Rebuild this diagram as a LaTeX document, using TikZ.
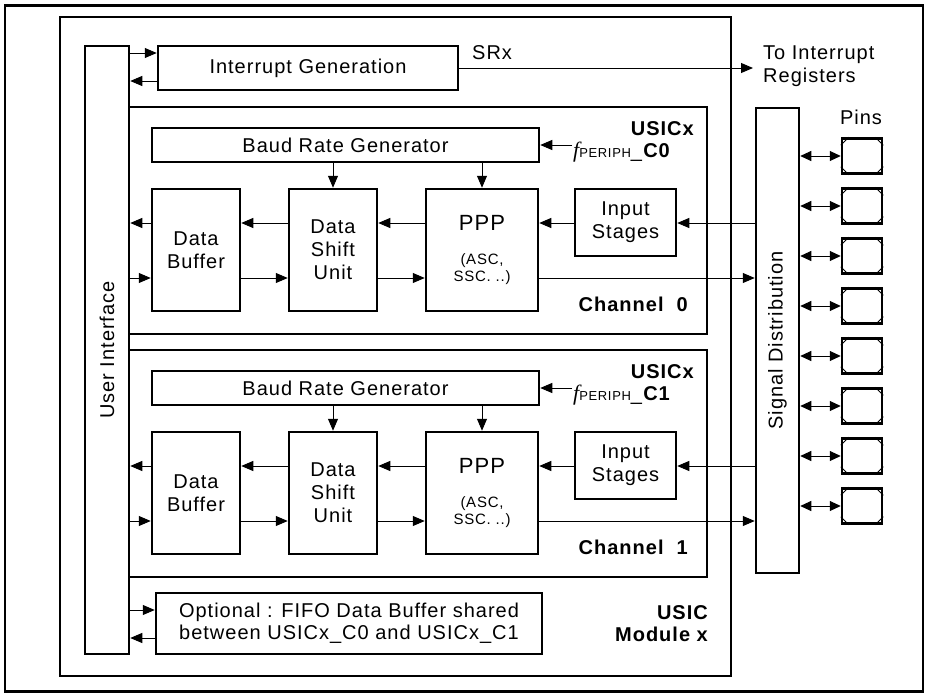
\documentclass[tikz,border=0pt]{standalone}
\usepackage{fontspec}
\setmainfont[LetterSpace=5]{Liberation Sans}
\newfontfamily\serifit{Liberation Serif}
\usetikzlibrary{arrows.meta,calc}
\begin{document}
\begin{tikzpicture}[x=1pt,y=-1pt,
  box/.style={draw, line width=2.5pt, inner sep=0pt, align=center, fill=white,
    font=\fontsize{20}{23}\selectfont},
  frame/.style={draw, line width=2.5pt, inner sep=0pt},
  arr/.style={-{Triangle[length=12pt,width=10pt]}, line width=0.9pt},
  darr/.style={{Triangle[length=11pt,width=10pt]}-{Triangle[length=11pt,width=10pt]}, line width=0.9pt},
  lbl/.style={inner sep=0pt, font=\fontsize{20}{23}\selectfont},
  blbl/.style={inner sep=0pt, font=\fontsize{20}{22}\selectfont\bfseries, align=right},
  pinbox/.style={draw, line width=2.5pt, inner sep=0pt, minimum width=40pt, minimum height=35pt},
]
\useasboundingbox (0,0) rectangle (927,694);
% outer frame
\node[frame, minimum width=918pt, minimum height=686pt] (outer) at (464,348.5) {};
% module
\node[frame, minimum width=671pt, minimum height=659pt] (module) at (395.5,346.5) {};
% user interface bar
\node[box, minimum width=44pt, minimum height=608pt] (ui) at (107,350) {};
\node[lbl, rotate=90] (uitext) at (ui) {User Interface};
% interrupt generation
\node[box, minimum width=300pt, minimum height=44pt] (ig) at (308,68) {Interrupt Generation};
\coordinate (yA) at (0,53);
\coordinate (yB) at (0,81);
\draw[arr] (ui.east |- yA) -- (ig.west |- yA);
\draw[arr] (ig.west |- yB) -- (ui.east |- yB);
\coordinate (toint) at (753,68);
\draw[arr] (ig.east) -- (toint);
\node[lbl, anchor=west] (srx) at (472,53) {SRx};
\node[lbl, anchor=west, align=left] (totext) at (763,66.5) {To Interrupt\\Registers};
% signal distribution
\node[box, minimum width=43pt, minimum height=465pt] (sd) at (777.5,340.5) {};
\node[lbl, rotate=90] (sdtext) at (sd) {Signal Distribution};
\node[lbl] (pinstext) at (861,117) {Pins};
% channels
\foreach \c/\dy in {0/0,1/243}{
  \node[frame, minimum width=578pt, minimum height=227pt] (ch\c) at (418,220.5+\dy) {};
  \node[box, minimum width=387pt, minimum height=34pt] (brg\c) at (345.5,145+\dy) {Baud Rate Generator};
  \node[box, minimum width=88pt, minimum height=122pt] (db\c) at (196,250+\dy) {Data\\Buffer};
  \node[box, minimum width=88pt, minimum height=122pt] (dsu\c) at (333,250+\dy) {Data\\Shift\\Unit};
  \node[box, minimum width=112pt, minimum height=122pt] (ppp\c) at (482,250+\dy) {};
  \node[lbl, font=\fontsize{22}{24}\selectfont] (ppptext\c) at (482,223+\dy) {PPP};
  \node[lbl, align=center, font=\fontsize{15}{17}\selectfont] (pppsub\c) at (482,269.5+\dy) {(ASC,\\SSC. ..)};
  \node[box, minimum width=101pt, minimum height=67pt] (is\c) at (625.5,222.5+\dy) {Input\\Stages};
  \coordinate (u\c) at (0,223+\dy);
  \coordinate (l\c) at (0,278+\dy);
  % upper row (towards user interface)
  \draw[arr] (sd.west |- u\c) -- (is\c.east |- u\c);
  \draw[arr] (is\c.west |- u\c) -- (ppp\c.east |- u\c);
  \draw[arr] (ppp\c.west |- u\c) -- (dsu\c.east |- u\c);
  \draw[arr] (dsu\c.west |- u\c) -- (db\c.east |- u\c);
  \draw[arr] (db\c.west |- u\c) -- (ui.east |- u\c);
  % lower row (towards pins)
  \draw[arr] (ui.east |- l\c) -- (db\c.west |- l\c);
  \draw[arr] (db\c.east |- l\c) -- (dsu\c.west |- l\c);
  \draw[arr] (dsu\c.east |- l\c) -- (ppp\c.west |- l\c);
  \draw[arr] (ppp\c.east |- l\c) -- (sd.west |- l\c);
  % baud rate
  \draw[arr] (brg\c.south -| dsu\c.north) -- (dsu\c.north);
  \draw[arr] (brg\c.south -| ppp\c.north) -- (ppp\c.north);
  \coordinate (fp\c) at (572,145+\dy);
  \draw[arr] (fp\c) -- (brg\c.east);
  \node[blbl, anchor=east] (usicx\c) at (694,129+\dy) {USICx};
  \node[lbl, anchor=west] (fper\c) at (573,152+\dy)
    {{\serifit\itshape\fontsize{22}{23}\selectfont f}{\fontsize{13}{14}\selectfont PERIPH}\_\textbf{C\c}};
  \node[blbl, anchor=east] (chl\c) at (688,304+\dy) {Channel\ \ \c};
}
% FIFO
\node[box, minimum width=386pt, minimum height=61pt, font=\fontsize{20}{22}\selectfont] (fifo) at (349,623.5)
  {Optional : FIFO Data Buffer shared\\between USICx\_C0 and USICx\_C1};
\coordinate (fa) at (0,610);
\coordinate (fb) at (0,638);
\draw[arr] (ui.east |- fa) -- (fifo.west |- fa);
\draw[arr] (fifo.west |- fb) -- (ui.east |- fb);
\node[blbl, anchor=east] (modlbl) at (708,624) {USIC\\Module x};
% pins
\foreach \k in {0,...,7}{
  \node[pinbox] (pin\k) at (862,156+50*\k) {};
  \draw[darr] (sd.east |- pin\k.west) -- (pin\k.west);
  \draw[line width=1pt] ($(pin\k.north west)+(0,8)$) -- ($(pin\k.north west)+(8,0)$);
  \draw[line width=1pt] ($(pin\k.north east)+(0,8)$) -- ($(pin\k.north east)+(-8,0)$);
  \draw[line width=1pt] ($(pin\k.south west)+(0,-8)$) -- ($(pin\k.south west)+(8,0)$);
  \draw[line width=1pt] ($(pin\k.south east)+(0,-8)$) -- ($(pin\k.south east)+(-8,0)$);
}
\end{tikzpicture}
\end{document}
